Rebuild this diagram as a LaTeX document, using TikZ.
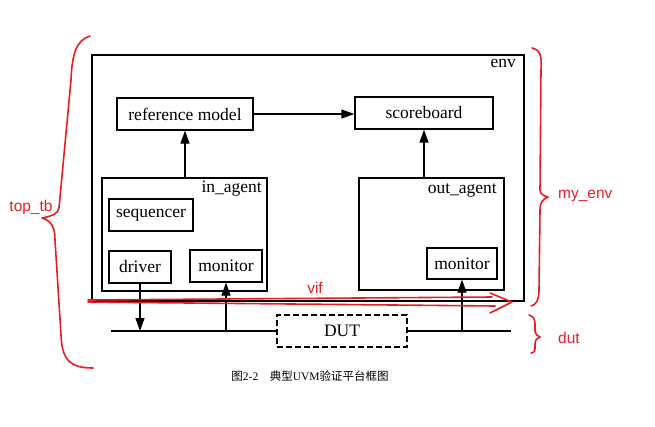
\documentclass[tikz,border=0pt]{standalone}
\usepackage{fontspec}
\usepackage{tikz}
\usepackage{xcolor}
\usetikzlibrary{arrows.meta}
\setmainfont{Liberation Serif}
\setsansfont{Liberation Sans}
\newfontfamily\cjk{Noto Sans CJK SC}
\definecolor{annot}{RGB}{230,30,36}

\begin{document}
\begin{tikzpicture}[x=1pt, y=-1pt,
    blk/.style={draw, line width=1.3pt, inner sep=0pt, font=\fontsize{17.5}{18}\selectfont},
    tag/.style={inner sep=0pt, font=\fontsize{17.5}{18}\selectfont},
    sig/.style={line width=1.3pt, -{Triangle[length=13pt, width=9pt]}},
    note/.style={annot, line width=1.6pt, line cap=round, line join=round},
    notetext/.style={annot, inner sep=0pt, font=\sffamily\fontsize{15.5}{16}\selectfont}]
      \useasboundingbox (0,0) rectangle (655,426);
      % boxes
      \node[blk, minimum width=432pt, minimum height=246pt] (env) at (308,178) {};
      \node[tag, anchor=north east] (envlabel) at (516,59) {env};
      \node[blk, minimum width=136pt, minimum height=32pt] (refmodel) at (185,114) {reference model};
      \node[blk, minimum width=138pt, minimum height=32pt] (scoreboard) at (424,113) {scoreboard};
      \node[blk, minimum width=165pt, minimum height=113pt] (inagent) at (184.5,234.5) {};
      \node[tag, anchor=north east] (inagentlabel) at (262,181) {in\_agent};
      \node[blk, minimum width=84pt, minimum height=32pt] (sequencer) at (151,215) {sequencer};
      \node[blk, minimum width=62pt, minimum height=32pt] (driver) at (140,267) {driver};
      \node[blk, minimum width=72pt, minimum height=32pt] (inmonitor) at (226,266) {monitor};
      \node[blk, minimum width=145pt, minimum height=112pt] (outagent) at (431.5,234) {};
      \node[tag, anchor=north east] (outagentlabel) at (497,183) {out\_agent};
      \node[blk, minimum width=70pt, minimum height=31pt] (outmonitor) at (462,263.5) {monitor};
      \node[blk, dash pattern=on 6pt off 3pt, minimum width=130pt, minimum height=32pt] (dut) at (342,331) {DUT};
      % bus and connections
      \coordinate (busleft) at (111,331);
      \coordinate (busright) at (511,331);
      \draw[line width=1.3pt] (busleft) -- (dut.west);
      \draw[line width=1.3pt] (dut.east) -- (busright);
      \draw[sig] (driver.south) -- (driver.south |- busleft);
      \draw[sig] (inmonitor.south |- busleft) -- (inmonitor.south);
      \draw[sig] (outmonitor.south |- busright) -- (outmonitor.south);
      \draw[sig] (refmodel.south |- inagent.north) -- (refmodel.south);
      \draw[sig] (refmodel.east) -- (refmodel.east -| scoreboard.west);
      \draw[sig] (scoreboard.south |- outagent.north) -- (scoreboard.south);
      % red notes
      \draw[note] (90,36) .. controls (76,40) and (72,55) .. (71,80)
        -- (59,208) .. controls (58,214) and (52,216) .. (42,218)
        .. controls (52,221) and (55,228) .. (55,240)
        -- (61,335) .. controls (62,360) and (70,368) .. (93,368);
      \node[notetext] (toptb) at (31,207) {top\_tb};
      \draw[note] (532,48) .. controls (540,50) and (542,55) .. (541,70)
        -- (540,190) .. controls (540,194) and (544,196) .. (548,197)
        .. controls (543,199) and (540,202) .. (540,210)
        -- (539,290) .. controls (539,300) and (536,305) .. (531,306);
      \node[notetext, anchor=west] (myenv) at (558,196) {my\_env};
      \draw[note] (529,315) .. controls (533,316) and (535,319) .. (535,324)
        -- (535,331) .. controls (535,334) and (537,336) .. (540,337)
        .. controls (537,338) and (535,340) .. (535,344)
        -- (535,349) .. controls (535,352) and (533,353) .. (531,353);
      \node[notetext, anchor=west] (dutnote) at (558,338) {dut};
      \draw[note] (88,300) -- (492,297);
      \draw[note] (88,302) -- (495,306);
      \draw[note] (490,293) -- (512,302) -- (490,313);
      \node[notetext] (vif) at (315,288) {vif};
      % caption
      \node[inner sep=0pt, font=\fontsize{11.5}{12}\selectfont] (caption) at (310,376)
        {{\cjk 图}2-2\quad{\cjk 典型}UVM{\cjk 验证平台框图}};
    \end{tikzpicture}
\end{document}
